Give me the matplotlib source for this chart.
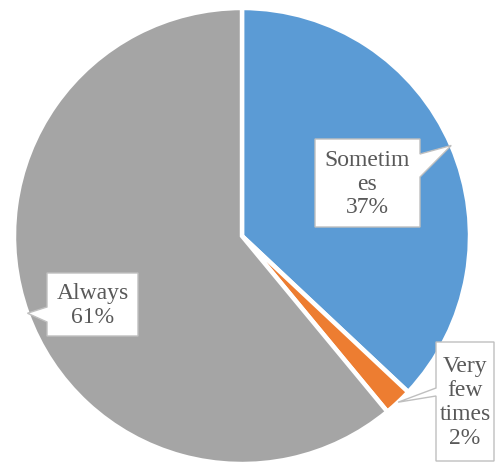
import numpy as np
import matplotlib.pyplot as plt
from matplotlib.patches import Polygon

# Survey responses
categories = ["Sometimes", "Very few times", "Always"]
shares = [37, 2, 61]
display_names = ["Sometim\nes", "Very\nfew\ntimes", "Always"]
colors = ["#5B9BD5", "#ED7D31", "#A5A5A5"]

W, H = 501, 464
fig = plt.figure(figsize=(W / 100, H / 100), dpi=100)
ax = fig.add_axes([0, 0, 1, 1])

cx, cy, R = 242, H - 237, 228
wedges, _ = ax.pie(shares, colors=colors, startangle=90, counterclock=False,
                   center=(cx, cy), radius=R,
                   wedgeprops=dict(edgecolor="white", linewidth=3.2))
ax.set_xlim(0, W)
ax.set_ylim(0, H)
ax.set_aspect("equal")
ax.axis("off")

# Callout boxes (pixel layout: left, top, right, bottom), pointer side and base span
boxes = [
    dict(box=(315, 140, 420, 228), side="right", base=(155, 178)),
    dict(box=(436, 343, 494, 462), side="left", base=(389, 397)),
    dict(box=(47, 274, 138, 337), side="left", base=(308, 323)),
]

def to_data(x, y):
    return (x, H - y)

for w, name, pct, spec in zip(wedges, display_names, shares, boxes):
    mid = np.deg2rad((w.theta1 + w.theta2) / 2)
    tip = (cx + R * np.cos(mid), cy + R * np.sin(mid))
    x0, y0, x1, y1 = spec["box"]
    b0, b1 = spec["base"]
    if spec["side"] == "right":
        pts = [to_data(x0, y0), to_data(x1, y0), to_data(x1, b0), tip,
               to_data(x1, b1), to_data(x1, y1), to_data(x0, y1)]
    else:
        pts = [to_data(x0, y0), to_data(x1, y0), to_data(x1, y1),
               to_data(x0, y1), to_data(x0, b1), tip, to_data(x0, b0)]
    ax.add_patch(Polygon(pts, closed=True, facecolor="white",
                         edgecolor="#BFBFBF", linewidth=1.0, zorder=5,
                         clip_on=False))
    tx, ty = to_data((x0 + x1) / 2, (y0 + y1) / 2)
    ax.text(tx, ty, f"{name}\n{pct}%", ha="center", va="center",
            fontsize=17, family=["Liberation Serif", "DejaVu Serif"],
            color="#595959", linespacing=1.18, zorder=6)

fig.savefig("out.png", dpi=100)
